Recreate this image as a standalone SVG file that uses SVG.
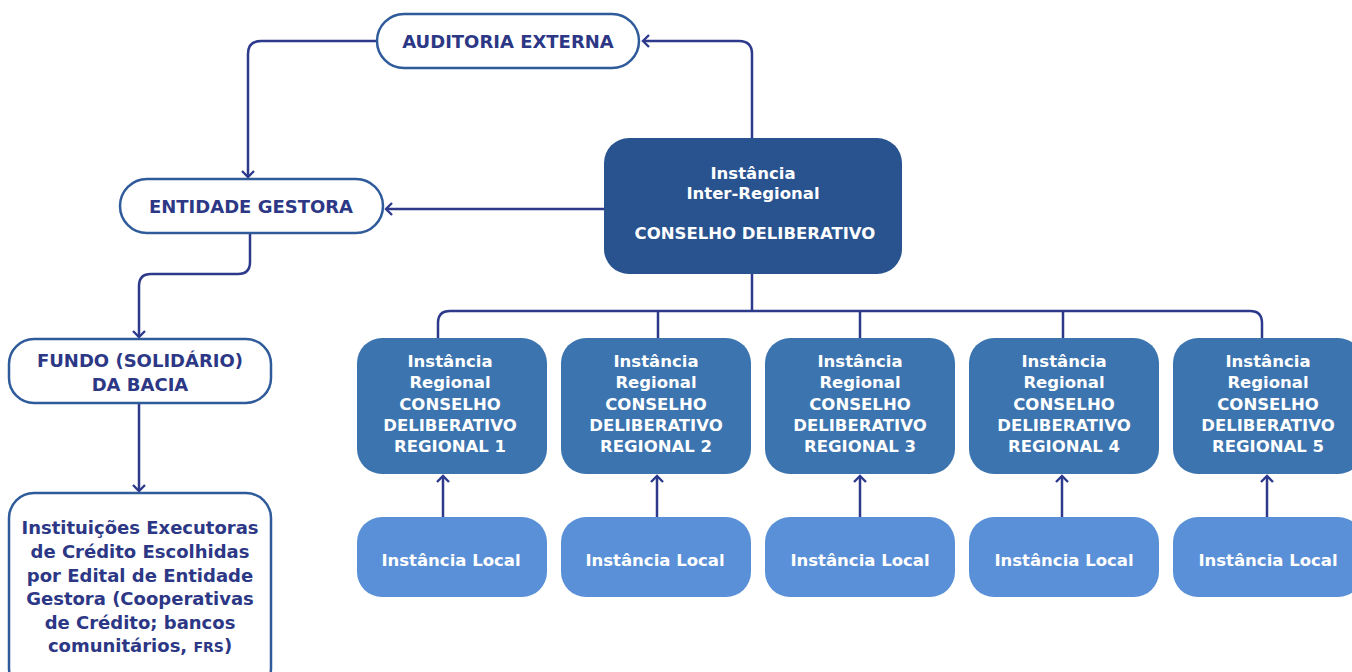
<svg xmlns="http://www.w3.org/2000/svg" width="1352" height="672" viewBox="0 0 1352 672">
<defs>
<style>
.wbox{fill:#ffffff;stroke:#2f5b9b;stroke-width:2.5}
.cbox{fill:#28538f}
.rbox{fill:#3c74af}
.lbox{fill:#5a90d8}
.nt{font-family:"DejaVu Sans","Liberation Sans",sans-serif;font-weight:bold;font-size:18px;fill:#2c3785;text-anchor:middle}
.wt{font-family:"DejaVu Sans","Liberation Sans",sans-serif;font-weight:bold;font-size:16.5px;fill:#ffffff;text-anchor:middle}
.ln{fill:none;stroke:#2d3a8c;stroke-width:2.5}
</style>
<marker id="ah" markerWidth="14" markerHeight="14" refX="7" refY="7" orient="auto" markerUnits="userSpaceOnUse">
<path d="M1,1 L7,7 L1,13" fill="none" stroke="#2d3a8c" stroke-width="2.4"/>
</marker>
</defs>
<rect width="1352" height="672" fill="#ffffff"/>

<g id="connectors">
<path class="ln" d="M752,138 V54 Q752,41 739,41 H643" marker-end="url(#ah)"/>
<path class="ln" d="M377,41 H261 Q248,41 248,54 V177" marker-end="url(#ah)"/>
<path class="ln" d="M604,209 H386" marker-end="url(#ah)"/>
<path class="ln" d="M250,233 V262 Q250,274 238,274 H151 Q139,274 139,286 V337" marker-end="url(#ah)"/>
<path class="ln" d="M139,403 V491" marker-end="url(#ah)"/>
<path class="ln" d="M752,274 V311"/>
<path class="ln" d="M438,338 V323 Q438,311 450,311 H1250 Q1262,311 1262,323 V338"/>
<path class="ln" d="M658,311 V338 M860,311 V338 M1063,311 V338"/>
<path class="ln" d="M443,517 V476" marker-end="url(#ah)"/>
<path class="ln" d="M657,517 V476" marker-end="url(#ah)"/>
<path class="ln" d="M860,517 V476" marker-end="url(#ah)"/>
<path class="ln" d="M1062,517 V476" marker-end="url(#ah)"/>
<path class="ln" d="M1267,517 V476" marker-end="url(#ah)"/>
</g>

<g id="auditoria">
<rect class="wbox" x="377" y="14" width="262" height="54" rx="27"/>
<text class="nt" x="508" y="47.5">AUDITORIA EXTERNA</text>
</g>

<g id="entidade">
<rect class="wbox" x="120" y="179" width="263" height="54" rx="27"/>
<text class="nt" x="251" y="212.5">ENTIDADE GESTORA</text>
</g>

<g id="fundo">
<rect class="wbox" x="9" y="339" width="262" height="64" rx="25"/>
<text class="nt" x="140" y="366.5">FUNDO (SOLIDÁRIO)</text>
<text class="nt" x="140" y="390.5">DA BACIA</text>
</g>

<g id="instituicoes">
<rect class="wbox" x="9" y="493" width="262" height="200" rx="25"/>
<text class="nt" x="140" y="533.5">Instituições Executoras</text>
<text class="nt" x="140" y="557.5">de Crédito Escolhidas</text>
<text class="nt" x="140" y="581.5">por Edital de Entidade</text>
<text class="nt" x="140" y="604.5">Gestora (Cooperativas</text>
<text class="nt" x="140" y="628.5">de Crédito; bancos</text>
<text class="nt" x="140" y="651.5">comunitários, <tspan font-size="14">FRS</tspan>)</text>
</g>

<g id="central">
<rect class="cbox" x="604" y="138" width="298" height="136" rx="25"/>
<text class="wt" x="753" y="179">Instância</text>
<text class="wt" x="753" y="199">Inter-Regional</text>
<text class="wt" x="755" y="239">CONSELHO DELIBERATIVO</text>
</g>

<g id="regional1">
<rect class="rbox" x="357" y="338" width="190" height="136" rx="25"/>
<text class="wt" x="450" y="367">Instância</text>
<text class="wt" x="450" y="388">Regional</text>
<text class="wt" x="450" y="410">CONSELHO</text>
<text class="wt" x="450" y="431">DELIBERATIVO</text>
<text class="wt" x="450" y="452">REGIONAL 1</text>
</g>
<g id="regional2">
<rect class="rbox" x="561" y="338" width="190" height="136" rx="25"/>
<text class="wt" x="656" y="367">Instância</text>
<text class="wt" x="656" y="388">Regional</text>
<text class="wt" x="656" y="410">CONSELHO</text>
<text class="wt" x="656" y="431">DELIBERATIVO</text>
<text class="wt" x="656" y="452">REGIONAL 2</text>
</g>
<g id="regional3">
<rect class="rbox" x="765" y="338" width="190" height="136" rx="25"/>
<text class="wt" x="860" y="367">Instância</text>
<text class="wt" x="860" y="388">Regional</text>
<text class="wt" x="860" y="410">CONSELHO</text>
<text class="wt" x="860" y="431">DELIBERATIVO</text>
<text class="wt" x="860" y="452">REGIONAL 3</text>
</g>
<g id="regional4">
<rect class="rbox" x="969" y="338" width="190" height="136" rx="25"/>
<text class="wt" x="1064" y="367">Instância</text>
<text class="wt" x="1064" y="388">Regional</text>
<text class="wt" x="1064" y="410">CONSELHO</text>
<text class="wt" x="1064" y="431">DELIBERATIVO</text>
<text class="wt" x="1064" y="452">REGIONAL 4</text>
</g>
<g id="regional5">
<rect class="rbox" x="1173" y="338" width="190" height="136" rx="25"/>
<text class="wt" x="1268" y="367">Instância</text>
<text class="wt" x="1268" y="388">Regional</text>
<text class="wt" x="1268" y="410">CONSELHO</text>
<text class="wt" x="1268" y="431">DELIBERATIVO</text>
<text class="wt" x="1268" y="452">REGIONAL 5</text>
</g>

<g id="local1">
<rect class="lbox" x="357" y="517" width="190" height="80" rx="25"/>
<text class="wt" x="451" y="566">Instância Local</text>
</g>
<g id="local2">
<rect class="lbox" x="561" y="517" width="190" height="80" rx="25"/>
<text class="wt" x="655" y="566">Instância Local</text>
</g>
<g id="local3">
<rect class="lbox" x="765" y="517" width="190" height="80" rx="25"/>
<text class="wt" x="860" y="566">Instância Local</text>
</g>
<g id="local4">
<rect class="lbox" x="969" y="517" width="190" height="80" rx="25"/>
<text class="wt" x="1064" y="566">Instância Local</text>
</g>
<g id="local5">
<rect class="lbox" x="1173" y="517" width="190" height="80" rx="25"/>
<text class="wt" x="1268" y="566">Instância Local</text>
</g>
</svg>
